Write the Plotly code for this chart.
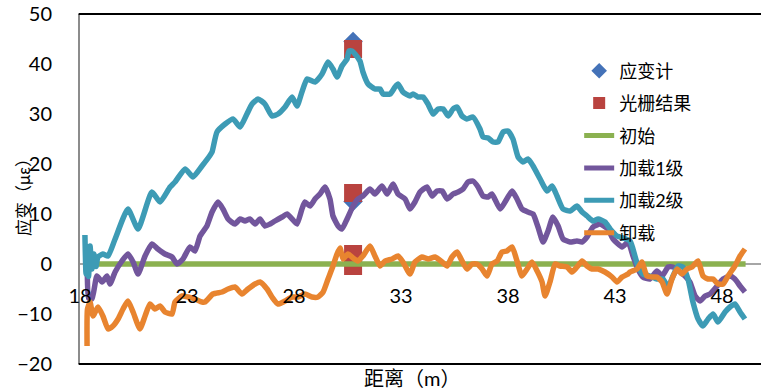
import plotly.graph_objects as go

# ---------------- data ----------------
gauge_x = [30.76, 30.76, 30.76]
gauge_y = [44.5, 12.5, 1.0]

grating_x = [30.76, 30.76, 30.76, 30.76]
grating_y = [43.0, 14.2, 2.0, -0.4]

init_x = [18.3, 49.1]
init_y = [0.0, 0.0]

load1_x = [18.28, 18.33, 18.40, 18.56, 18.79, 19.03, 19.26, 19.40, 19.64, 19.96, 20.24, 20.48, 20.71,
           21.04, 21.36, 21.64, 21.97, 22.30, 22.53, 22.81, 23.14, 23.37, 23.61, 23.93, 24.17, 24.45,
           24.68, 24.92, 25.24, 25.48, 25.71, 25.94, 26.18, 26.41, 26.64, 26.88, 27.11, 27.44, 27.67,
           27.91, 28.14, 28.37, 28.51, 28.75, 28.98, 29.21, 29.45, 29.68, 29.82, 30.06, 30.24, 30.48,
           30.76, 30.99, 31.22, 31.55, 31.78, 32.11, 32.35, 32.63, 32.86, 33.19, 33.42, 33.65, 33.89,
           34.21, 34.45, 34.68, 34.92, 35.15, 35.43, 35.67, 35.90, 36.13, 36.36, 36.60, 36.83, 37.07,
           37.25, 37.63, 37.86, 38.19, 38.42, 38.65, 38.93, 39.17, 39.40, 39.64, 39.87, 40.10, 40.34,
           40.57, 40.90, 41.22, 41.46, 41.69, 41.97, 42.30, 42.67, 42.91, 43.33, 43.61, 43.84, 44.07,
           44.30, 44.63, 44.96, 45.20, 45.48, 45.71, 46.04, 46.27, 46.50, 46.74, 46.97, 47.21, 47.44,
           47.77, 48.05, 48.37, 48.60, 48.84, 49.07]
load1_y = [1.0, 0.0, -6.8, -7.0, -2.4, -3.6, -2.4, -4.0, -1.6, 0.6, 2.0, 0.4, -2.0,
           1.6, 4.0, 3.0, 2.0, 1.4, 0.0, 1.0, 3.4, 2.6, 5.6, 7.6, 10.4, 12.4,
           11.0, 9.0, 8.0, 9.0, 8.6, 9.0, 8.0, 9.0, 7.6, 8.0, 8.6, 9.4, 10.0,
           9.0, 8.0, 11.0, 12.4, 11.6, 13.0, 14.0, 15.4, 13.0, 9.6, 7.6, 7.0, 9.0,
           11.6, 13.0, 13.6, 15.0, 14.0, 15.6, 14.0, 16.0, 14.0, 13.0, 11.0, 12.4, 14.4,
           15.4, 13.6, 14.6, 14.6, 13.0, 14.0, 14.4, 15.0, 16.4, 16.6, 15.4, 13.6, 13.4,
           14.0, 11.0, 12.4, 14.6, 13.0, 11.0, 10.4, 10.0, 7.4, 4.4, 6.6, 9.4, 7.6,
           5.0, 4.4, 4.6, 4.4, 5.4, 7.4, 8.0, 7.0, 5.0, 3.4, 4.4, 1.6, -1.0,
           -2.6, -3.0, -1.4, -2.4, -0.6, -0.6, -1.6, -2.4, -3.6, -6.4, -7.4, -6.4, -6.0,
           -4.4, -3.0, -2.4, -3.0, -4.4, -5.6]

load2_x = [18.23, 18.28, 18.33, 18.40, 18.47, 18.56, 18.65, 18.75, 18.84, 19.07, 19.31, 19.64, 20.24,
           20.71, 21.36, 21.74, 22.21, 22.44, 22.91, 23.28, 23.70, 24.07, 24.17, 24.40, 24.78, 25.15,
           25.48, 25.80, 26.04, 26.32, 26.64, 26.97, 27.25, 27.58, 27.91, 28.14, 28.37, 28.61, 28.98,
           29.31, 29.59, 29.82, 30.01, 30.24, 30.48, 30.57, 30.71, 30.85, 31.08, 31.22, 31.46, 31.78,
           32.02, 32.16, 32.49, 32.72, 32.86, 33.09, 33.42, 33.56, 33.79, 34.03, 34.26, 34.50, 34.73,
           34.97, 35.20, 35.43, 35.62, 35.85, 36.08, 36.36, 36.69, 36.83, 37.07, 37.30, 37.53, 37.77,
           38.00, 38.23, 38.47, 38.70, 38.93, 39.17, 39.50, 39.82, 40.06, 40.29, 40.57, 40.90, 41.22,
           41.46, 41.69, 41.97, 42.21, 42.53, 42.77, 43.09, 43.23, 43.70, 43.93, 44.07, 44.30, 44.63,
           44.96, 45.24, 45.48, 45.71, 45.94, 46.18, 46.41, 46.64, 46.88, 47.11, 47.35, 47.58, 47.81,
           48.14, 48.37, 48.60, 48.84, 49.07]
load2_y = [5.8, -2.0, 3.0, -2.5, 3.6, -1.0, 2.0, -0.5, 1.4, 2.0, 1.6, 5.0, 11.0,
           7.0, 14.4, 12.4, 15.4, 16.4, 19.0, 17.4, 19.6, 21.7, 22.4, 26.4, 28.0, 29.0,
           27.4, 30.0, 32.0, 33.0, 32.0, 29.6, 30.0, 31.4, 33.4, 31.6, 34.4, 37.0, 36.4,
           38.0, 40.4, 39.0, 37.4, 39.6, 41.0, 42.6, 42.6, 42.0, 40.6, 38.4, 36.0, 35.0,
           35.0, 34.0, 34.0, 35.4, 36.0, 34.4, 33.6, 34.0, 33.4, 33.4, 32.0, 30.0, 31.0,
           31.0, 29.6, 31.0, 31.4, 29.6, 29.0, 29.4, 27.0, 25.4, 25.2, 24.4, 24.4, 26.4,
           26.6, 25.0, 21.4, 20.4, 21.0, 19.6, 17.0, 14.6, 15.6, 13.6, 11.0, 10.6, 11.6,
           10.4, 9.6, 8.6, 9.0, 8.4, 7.0, 5.6, 5.4, 4.6, 1.6, -0.4, -2.0, -2.4,
           -3.0, -3.0, -4.6, -2.4, -0.4, -0.6, -3.0, -7.6, -11.0, -12.4, -11.0, -10.0, -11.6,
           -9.6, -8.6, -8.0, -9.6, -11.0]

unload_x = [18.33, 18.35, 18.47, 18.61, 18.84, 19.07, 19.31, 19.54, 19.78, 20.01, 20.24, 20.48, 20.80,
            21.04, 21.27, 21.50, 21.74, 21.97, 22.30, 22.44, 22.77, 23.05, 23.37, 23.70, 23.84, 24.21,
            24.64, 24.92, 25.24, 25.57, 25.85, 26.18, 26.41, 26.74, 26.97, 27.25, 27.58, 27.91, 28.19,
            28.51, 28.84, 29.12, 29.36, 29.59, 29.82, 30.01, 30.15, 30.29, 30.52, 30.76, 30.99, 31.22,
            31.55, 31.78, 32.02, 32.25, 32.58, 32.86, 33.09, 33.42, 33.65, 33.98, 34.26, 34.59, 34.92,
            35.15, 35.38, 35.62, 35.85, 36.08, 36.32, 36.55, 36.79, 37.02, 37.25, 37.49, 37.72, 37.95,
            38.19, 38.42, 38.65, 38.89, 39.12, 39.36, 39.59, 39.73, 39.96, 40.20, 40.43, 40.76, 40.99,
            41.22, 41.46, 41.69, 41.93, 42.21, 42.53, 42.86, 43.09, 43.33, 43.61, 43.70, 44.03, 44.25,
            44.49, 44.73, 44.96, 45.20, 45.43, 45.66, 45.90, 46.13, 46.36, 46.60, 46.88, 47.11, 47.35,
            47.58, 47.81, 48.05, 48.28, 48.60, 48.84, 49.07]
unload_y = [-16.4, -9.0, -7.6, -10.4, -8.6, -10.4, -13.0, -12.4, -11.0, -9.0, -7.4, -9.6, -13.0,
            -10.4, -8.0, -9.0, -8.4, -9.6, -10.0, -7.6, -6.4, -6.6, -7.0, -7.6, -7.6, -6.0,
            -5.6, -5.0, -4.6, -6.0, -5.0, -4.0, -3.6, -5.0, -6.6, -8.0, -7.4, -6.6, -6.6,
            -6.0, -6.6, -6.6, -5.6, -3.0, -0.4, 2.0, 3.2, 1.0, 2.0, 1.2, 0.6, 1.6,
            3.6, 1.6, -0.4, 0.6, 1.0, 1.6, 0.4, -2.0, 0.4, 1.4, 1.0, 1.4, 0.4,
            -0.4, 1.4, 2.4, 0.6, -1.0, 0.0, 0.0, -1.0, -2.4, 0.0, 0.6, 2.4, 2.6,
            3.4, 0.6, -2.4, -1.0, 0.4, -1.4, -3.6, -6.4, -3.6, 0.0, -0.4, -0.6, -1.6,
            -0.6, 0.6, -0.4, -1.0, -1.0, -1.6, -2.6, -3.6, -2.6, -2.0, -1.6, -1.0, 0.4,
            -2.4, -2.6, -2.6, -3.6, -6.0, -3.0, -1.0, -2.0, -1.0, -0.6, 0.6, -2.4, -3.0,
            -3.0, -4.0, -4.0, -2.4, -0.4, 1.6, 3.0]

y_ticks = [-20, -10, 0, 10, 20, 30, 40, 50]
x_ticks = [18, 23, 28, 33, 38, 43, 48]

names = ["应变计", "光栅结果", "初始", "加载1级", "加载2级", "卸载"]

# ---------------- figure ----------------
FONT = "Lato, 'Noto Sans CJK SC', sans-serif"
LW = 5.5
fig = go.Figure()

fig.add_trace(go.Scatter(x=gauge_x, y=gauge_y, mode="markers", name=names[0], legendgroup="a",
                         marker=dict(symbol="diamond", size=15, color="#4472B8")))
fig.add_trace(go.Scatter(x=grating_x, y=grating_y, mode="markers", name=names[1], legendgroup="b",
                         marker=dict(symbol="square", size=18, color="#B9433F")))
fig.add_trace(go.Scatter(x=init_x, y=init_y, mode="lines", name=names[2], legendgroup="c",
                         line=dict(color="#8BB150", width=LW)))
fig.add_trace(go.Scatter(x=load1_x, y=load1_y, mode="lines", name=names[3], legendgroup="d",
                         line=dict(color="#72569C", width=LW, shape="spline", smoothing=0.5)))
fig.add_trace(go.Scatter(x=load2_x, y=load2_y, mode="lines", name=names[4], legendgroup="e",
                         line=dict(color="#3D9BB5", width=LW, shape="spline", smoothing=0.5)))
fig.add_trace(go.Scatter(x=unload_x, y=unload_y, mode="lines", name=names[5], legendgroup="f",
                         line=dict(color="#E8842F", width=LW, shape="spline", smoothing=0.5)))

fig.update_layout(
    width=761, height=389,
    margin=dict(l=80, r=0, t=14, b=25),
    paper_bgcolor="white", plot_bgcolor="white",
    font=dict(family=FONT, size=20, color="black"),
    showlegend=True,
    legend=dict(x=0.733, y=0.89, xanchor="left", yanchor="top",
                font=dict(family=FONT, size=18, color="black"),
                itemsizing="constant",
                tracegroupgap=6, bgcolor="rgba(0,0,0,0)"),
    xaxis=dict(range=[18, 49.82], tickvals=x_ticks, showgrid=False, zeroline=False,
               showline=False, anchor="free", position=2 / 7, side="bottom",
               ticks="", ticklabelstandoff=18,
               tickfont=dict(family=FONT, size=20, color="black")),
    yaxis=dict(range=[-20, 50], tickvals=y_ticks, showgrid=False,
               zeroline=True, zerolinecolor="#A6A6A6", zerolinewidth=2,
               showline=True, linecolor="#8C8C8C", linewidth=2, ticks="",
               ticklabelstandoff=22,
               tickfont=dict(family=FONT, size=20, color="black")),
    shapes=[
        dict(type="line", xref="paper", yref="paper", x0=-0.002, x1=1, y0=1, y1=1,
             line=dict(color="black", width=2)),
        dict(type="line", xref="paper", yref="paper", x0=-0.002, x1=1, y0=0, y1=0,
             line=dict(color="black", width=2)),
    ],
    annotations=[
        dict(text="应变（με）", xref="paper", yref="paper", x=-0.083, y=0.49,
             xanchor="center", yanchor="middle", textangle=-90, showarrow=False,
             font=dict(family=FONT, size=17, color="black")),
        dict(text="距离（m）", xref="paper", yref="paper", x=0.4875, y=-0.04,
             xanchor="center", yanchor="middle", showarrow=False,
             font=dict(family=FONT, size=20, color="black")),
    ],
)

fig.write_html("out.html")
